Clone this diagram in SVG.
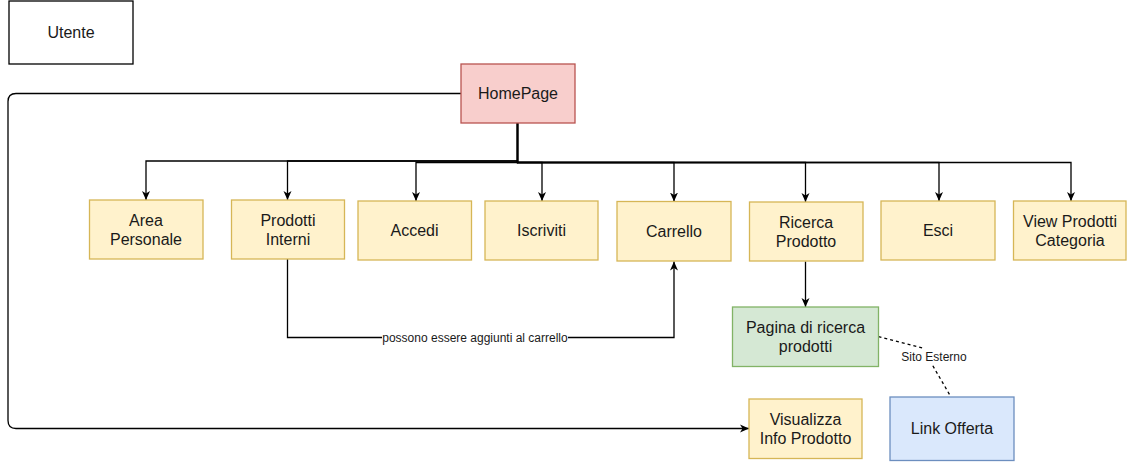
<svg xmlns="http://www.w3.org/2000/svg" width="1128" height="468" viewBox="0 0 1128 468">
<style>
  .box { stroke-width: 1.3; }
  .plain { fill: #ffffff; stroke: #000000; }
  .yellow { fill: #fff2cc; stroke: #d6b656; }
  .red { fill: #f8cecc; stroke: #b85450; }
  .green { fill: #d5e8d4; stroke: #82b366; }
  .blue { fill: #dae8fc; stroke: #6c8ebf; }
  text { font-family: "Liberation Sans", Arial, sans-serif; fill: #1a1a1a; text-anchor: middle; }
  .lbl { font-size: 16px; }
  .small { font-size: 12px; }
  .edge { fill: none; stroke: #000000; stroke-width: 1.3; }
  .dash { stroke-dasharray: 3 3; }
</style>
<defs>
  <marker id="arrow" markerUnits="userSpaceOnUse" markerWidth="10" markerHeight="10" viewBox="0 0 10 10" refX="9" refY="5" orient="auto">
    <path d="M0,1 L9,5 L0,9 L2.5,5 Z" fill="#000000"/>
  </marker>
</defs>
<rect width="1128" height="468" fill="#ffffff"/>

<g id="connectors">
  <path class="edge" d="M461,93.5 H16 Q8,93.5 8,101.5 V420.5 Q8,428.5 16,428.5 H749" marker-end="url(#arrow)"/>
  <path class="edge" d="M517.5,123 V161 H146 V200" marker-end="url(#arrow)"/>
  <path class="edge" d="M517.5,123 V161 H287.5 V200" marker-end="url(#arrow)"/>
  <path class="edge" d="M517.5,123 V162.5 H416 V201" marker-end="url(#arrow)"/>
  <path class="edge" d="M517.5,123 V162.5 H542 V201" marker-end="url(#arrow)"/>
  <path class="edge" d="M517.5,123 V162.5 H674 V201.5" marker-end="url(#arrow)"/>
  <path class="edge" d="M517.5,123 V162.5 H805.5 V202" marker-end="url(#arrow)"/>
  <path class="edge" d="M517.5,123 V162.5 H939 V201" marker-end="url(#arrow)"/>
  <path class="edge" d="M517.5,123 V162.5 H1071 V201" marker-end="url(#arrow)"/>
  <path class="edge" d="M287.5,259 V337.5 H674 V261.5" marker-end="url(#arrow)"/>
  <path class="edge" d="M805.5,261.5 V307" marker-end="url(#arrow)"/>
  <path class="edge dash" d="M878.5,336.7 L922.5,348 L950.7,396.5"/>
  <rect x="382" y="330" width="186" height="15" fill="#ffffff"/>
  <text class="small" x="475" y="341.5">possono essere aggiunti al carrello</text>
  <rect x="900" y="349" width="67" height="16" fill="#ffffff"/>
  <text class="small" x="934" y="361">Sito Esterno</text>
</g>

<g id="utente">
  <rect class="box plain" x="9" y="1" width="124" height="63"/>
  <text class="lbl" x="71" y="38">Utente</text>
</g>
<g id="homepage">
  <rect class="box red" x="461" y="64" width="114" height="59"/>
  <text class="lbl" x="518" y="99">HomePage</text>
</g>
<g id="area-personale">
  <rect class="box yellow" x="89.5" y="200" width="113.5" height="59"/>
  <text class="lbl" x="146" y="226">Area</text>
  <text class="lbl" x="146" y="245">Personale</text>
</g>
<g id="prodotti-interni">
  <rect class="box yellow" x="231.5" y="200" width="113" height="59"/>
  <text class="lbl" x="288" y="226">Prodotti</text>
  <text class="lbl" x="288" y="245">Interni</text>
</g>
<g id="accedi">
  <rect class="box yellow" x="358" y="201" width="113.5" height="59"/>
  <text class="lbl" x="414.5" y="236">Accedi</text>
</g>
<g id="iscriviti">
  <rect class="box yellow" x="485" y="201" width="113" height="59"/>
  <text class="lbl" x="541.5" y="236">Iscriviti</text>
</g>
<g id="carrello">
  <rect class="box yellow" x="617" y="201.5" width="114" height="59.5"/>
  <text class="lbl" x="674" y="237">Carrello</text>
</g>
<g id="ricerca-prodotto">
  <rect class="box yellow" x="749.5" y="202" width="113.5" height="59"/>
  <text class="lbl" x="806" y="228">Ricerca</text>
  <text class="lbl" x="806" y="247">Prodotto</text>
</g>
<g id="esci">
  <rect class="box yellow" x="881" y="201" width="114" height="59"/>
  <text class="lbl" x="938" y="236">Esci</text>
</g>
<g id="view-prodotti-categoria">
  <rect class="box yellow" x="1013.5" y="201" width="112.5" height="59"/>
  <text class="lbl" x="1070" y="227">View Prodotti</text>
  <text class="lbl" x="1070" y="246">Categoria</text>
</g>
<g id="pagina-ricerca">
  <rect class="box green" x="732.5" y="307" width="146" height="59.5"/>
  <text class="lbl" x="805.5" y="333">Pagina di ricerca</text>
  <text class="lbl" x="805.5" y="352">prodotti</text>
</g>
<g id="visualizza-info">
  <rect class="box yellow" x="749" y="399" width="113" height="59.5"/>
  <text class="lbl" x="805.5" y="425">Visualizza</text>
  <text class="lbl" x="805.5" y="444">Info Prodotto</text>
</g>
<g id="link-offerta">
  <rect class="box blue" x="890" y="397" width="124" height="63.5"/>
  <text class="lbl" x="952" y="434">Link Offerta</text>
</g>
</svg>
